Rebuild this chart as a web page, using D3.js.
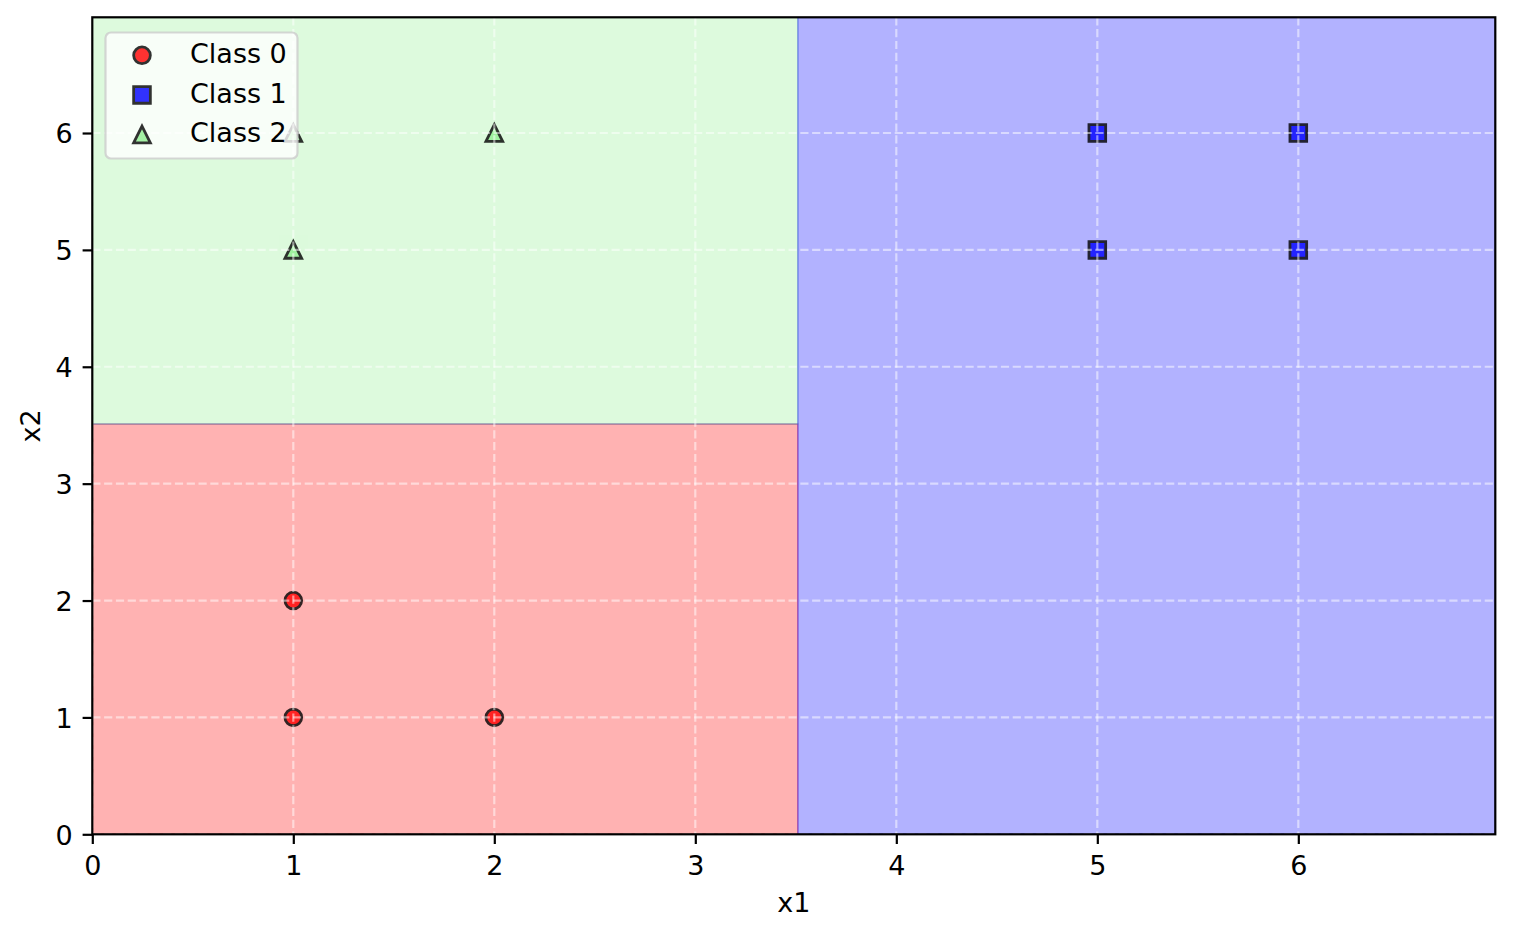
<!DOCTYPE html>
<html>
<head>
<meta charset="utf-8">
<script src="https://cdn.jsdelivr.net/npm/d3@7"></script>
<style>
  html, body { margin: 0; padding: 0; background: #fff; }
  svg { display: block; font-family: "DejaVu Sans", sans-serif; }
</style>
</head>
<body>
<svg id="chart" width="1514" height="936"></svg>
<script>
// ---------- data ----------
const classNames = ["Class 0", "Class 1", "Class 2"];
const classColors = ["#ff0000", "#0000ff", "#90ee90"];
const classShapes = ["circle", "square", "triangle"];

const class0X1 = [1, 1, 2];
const class0X2 = [1, 2, 1];
const class1X1 = [5, 5, 6, 6];
const class1X2 = [5, 6, 5, 6];
const class2X1 = [1, 1, 2];
const class2X2 = [5, 6, 6];

// decision regions (predicted class over the mesh)
const regionClass   = [0, 2, 1];
const regionX1From  = [0, 0, 3.51];
const regionX1To    = [3.51, 3.51, 6.98];
const regionX2From  = [0, 3.51, 0];
const regionX2To    = [3.51, 6.99, 6.99];

const xDomain = [0, 6.98];
const yDomain = [0, 6.99];
const xTicks = [0, 1, 2, 3, 4, 5, 6];
const yTicks = [0, 1, 2, 3, 4, 5, 6];
const xLabel = "x1";
const yLabel = "x2";

// ---------- layout ----------
const svg = d3.select("#chart");
const L = 92.3, T = 17.3, R = 1495.3, B = 834.3;
const FS = 27;
const LW = 2.2;
const x = d3.scaleLinear().domain(xDomain).range([L, R]);
const y = d3.scaleLinear().domain(yDomain).range([B, T]);

svg.append("defs").append("clipPath").attr("id", "plotclip")
  .append("rect").attr("x", L).attr("y", T).attr("width", R - L).attr("height", B - T);

const plot = svg.append("g").attr("clip-path", "url(#plotclip)");

// regions
const regions = regionClass.map((c, i) => ({
  c, x0: regionX1From[i], x1: regionX1To[i], y0: regionX2From[i], y1: regionX2To[i]
}));
plot.selectAll("rect.region").data(regions).enter().append("rect")
  .attr("class", "region")
  .attr("x", d => x(d.x0)).attr("y", d => y(d.y1))
  .attr("width", d => x(d.x1) - x(d.x0)).attr("height", d => y(d.y0) - y(d.y1))
  .attr("fill", d => classColors[d.c]).attr("fill-opacity", 0.3)
  .attr("stroke", d => classColors[d.c]).attr("stroke-opacity", 0.3).attr("stroke-width", 1.6);

// contour seam between class 0 and class 2 passes through level 1 (blue tint)
plot.append("line")
  .attr("x1", x(regionX1From[1])).attr("x2", x(regionX1To[1]))
  .attr("y1", y(regionX2From[1])).attr("y2", y(regionX2From[1]))
  .attr("stroke", classColors[1]).attr("stroke-opacity", 0.25).attr("stroke-width", 1.4);

// points
const points = [];
[[class0X1, class0X2], [class1X1, class1X2], [class2X1, class2X2]].forEach((arr, c) => {
  arr[0].forEach((v, i) => points.push({ c, x1: v, x2: arr[1][i] }));
});

const MS = 16.7; // marker size in px
function markerPath(shape, s) {
  const h = s / 2;
  if (shape === "circle") {
    const p = d3.path(); p.moveTo(h, 0); p.arc(0, 0, h, 0, 2 * Math.PI); p.closePath();
    return p.toString();
  }
  if (shape === "square") return `M${-h},${-h}H${h}V${h}H${-h}Z`;
  return `M0,${-h}L${-h},${h}L${h},${h}Z`;
}

plot.selectAll("path.pt").data(points).enter().append("path")
  .attr("class", "pt")
  .attr("transform", d => `translate(${x(d.x1)},${y(d.x2)})`)
  .attr("d", d => markerPath(classShapes[d.c], MS))
  .attr("fill", d => classColors[d.c])
  .attr("stroke", "#000")
  .attr("stroke-width", 2.8)
  .attr("opacity", 0.8);

// grid (above markers, as matplotlib zorder 1.5)
const grid = plot.append("g");
grid.selectAll("line.gx").data(xTicks).enter().append("line")
  .attr("x1", d => x(d)).attr("x2", d => x(d)).attr("y1", T).attr("y2", B)
  .attr("stroke", "#fff").attr("stroke-opacity", 0.5).attr("stroke-width", LW)
  .attr("stroke-dasharray", "8.2,3.6");
grid.selectAll("line.gy").data(yTicks).enter().append("line")
  .attr("y1", d => y(d)).attr("y2", d => y(d)).attr("x1", L).attr("x2", R)
  .attr("stroke", "#fff").attr("stroke-opacity", 0.5).attr("stroke-width", LW)
  .attr("stroke-dasharray", "8.2,3.6");

// axes
const xAxis = d3.axisBottom(x).tickValues(xTicks).tickFormat(d3.format("d")).tickSize(9.7).tickPadding(9.7);
const yAxis = d3.axisLeft(y).tickValues(yTicks).tickFormat(d3.format("d")).tickSize(9.7).tickPadding(9.7);

const gx = svg.append("g").attr("transform", `translate(0,${B})`).call(xAxis);
const gy = svg.append("g").attr("transform", `translate(${L},0)`).call(yAxis);
[gx, gy].forEach(g => {
  g.select(".domain").remove();
  g.selectAll(".tick line").attr("stroke", "#000").attr("stroke-width", LW);
  g.selectAll(".tick text").attr("font-size", FS).attr("fill", "#000")
    .attr("font-family", "DejaVu Sans, sans-serif");
});
gx.selectAll(".tick text").attr("dy", null).attr("y", 875 - B).attr("dominant-baseline", "auto");
gy.selectAll(".tick text").attr("dy", null).attr("x", -19.6).attr("y", 9.8);

// spines
svg.append("rect").attr("x", L).attr("y", T).attr("width", R - L).attr("height", B - T)
  .attr("fill", "none").attr("stroke", "#000").attr("stroke-width", LW);

// axis labels
svg.append("text").attr("x", (L + R) / 2).attr("y", 911.5).attr("text-anchor", "middle")
  .attr("font-size", FS).text(xLabel);
svg.append("text").attr("transform", `translate(40,${(T + B) / 2}) rotate(-90)`)
  .attr("text-anchor", "middle").attr("font-size", FS).text(yLabel);

// legend
const lg = svg.append("g");
lg.append("rect").attr("x", 105.5).attr("y", 32.5).attr("width", 192).attr("height", 126)
  .attr("rx", 5.5).attr("ry", 5.5)
  .attr("fill", "#fff").attr("fill-opacity", 0.8)
  .attr("stroke", "#ccc").attr("stroke-opacity", 0.8).attr("stroke-width", 2.2);
const rows = classNames.map((n, i) => ({ n, i }));
const rowY = d3.scaleLinear().domain([0, 2]).range([55.3, 134.5]);
const lr = lg.selectAll("g.row").data(rows).enter().append("g")
  .attr("transform", d => `translate(0,${rowY(d.i)})`);
lr.append("path")
  .attr("transform", "translate(142,0)")
  .attr("d", d => markerPath(classShapes[d.i], MS))
  .attr("fill", d => classColors[d.i]).attr("stroke", "#000").attr("stroke-width", 2.8)
  .attr("opacity", 0.8);
lr.append("text").attr("x", 190).attr("y", 7.8).attr("font-size", FS).attr("fill", "#000")
  .text(d => d.n);
</script>
</body>
</html>
